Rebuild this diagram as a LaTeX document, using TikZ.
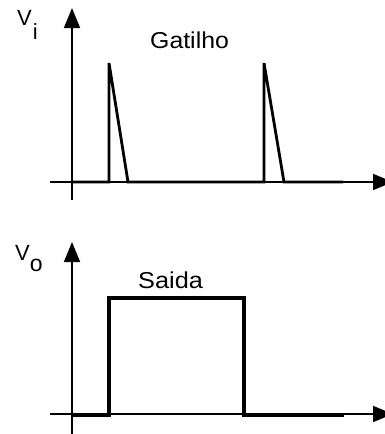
\documentclass[tikz,border=0pt]{standalone}
\usepackage{fontspec}
\setmainfont{Liberation Sans}
\usetikzlibrary{arrows.meta}
\tikzset{
  axis/.style={line width=1.6pt, -{Triangle[length=20pt,width=16pt]}},
  signal/.style={line width=2.8pt, line join=miter},
  lbl/.style={inner sep=0pt, anchor=base west, font=\fontsize{23}{23}\selectfont},
  vlbl/.style={inner sep=0pt, anchor=base west, font=\fontsize{22}{22}\selectfont}
}
\begin{document}
\begin{tikzpicture}[x=1pt,y=-1pt]
\useasboundingbox (0,0) rectangle (385,434);
% top graph
\coordinate (tyb) at (72,200);
\coordinate (tyt) at (72,8);
\coordinate (txl) at (50,182);
\coordinate (txr) at (393,182);
\draw[axis] (tyb) -- (tyt);
\draw[axis] (txl) -- (txr);
\draw[signal] (72,182) -- (109,182) -- (109,63) -- (128,182) -- (264,182) -- (264,63) -- (284,182) -- (343,182);
\node[lbl] (gat) at (150,48) {\scalebox{1.08}[1]{Gatilho}};
\node[vlbl] (vi) at (17,25) {V\kern1pt\raisebox{-14pt}{\fontsize{22}{22}\selectfont i}};
% bottom graph
\coordinate (byb) at (72,436);
\coordinate (byt) at (72,242);
\coordinate (bxl) at (50,414);
\coordinate (bxr) at (393,414);
\draw[axis] (byb) -- (byt);
\draw[axis] (bxl) -- (bxr);
\draw[signal, line width=3.2pt] (72,415) -- (109,415) -- (109,298) -- (244,298) -- (244,415) -- (344,415);
\node[lbl] (sai) at (138,288) {\scalebox{1.1}[1]{Saida}};
\node[vlbl] (vo) at (15,260) {V\raisebox{-11pt}{\fontsize{23}{23}\selectfont o}};
\end{tikzpicture}
\end{document}
